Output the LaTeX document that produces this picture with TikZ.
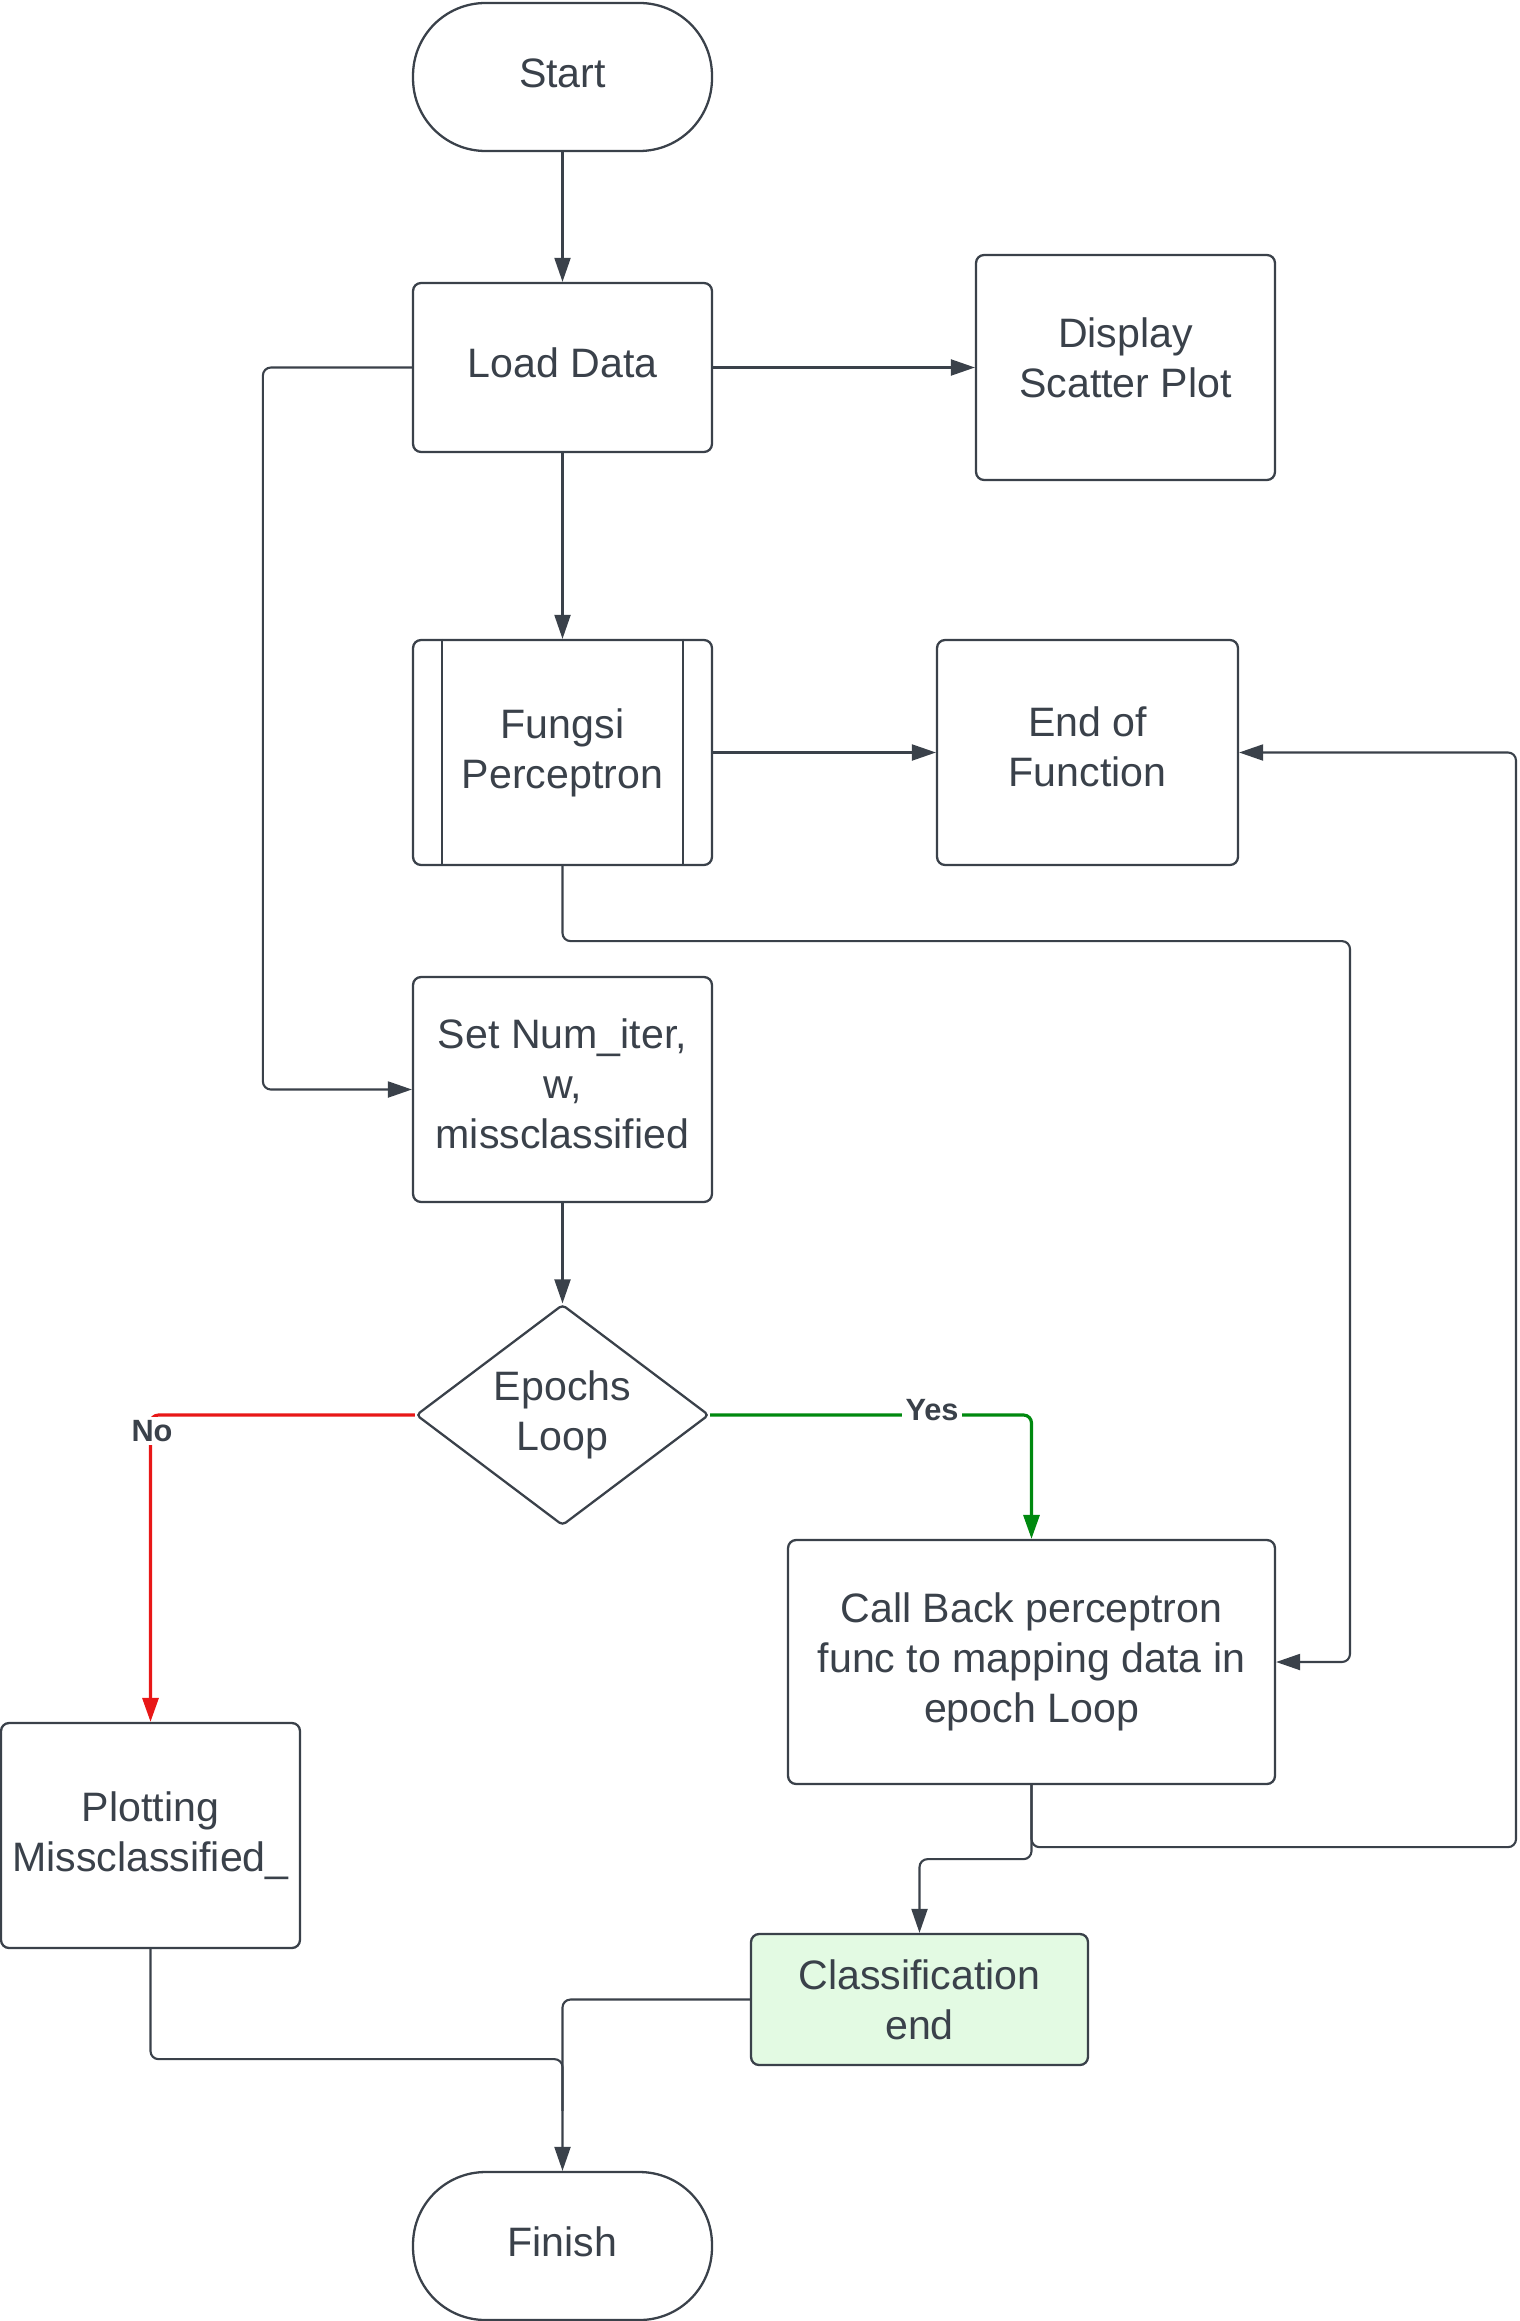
\documentclass[tikz,border=0pt]{standalone}
\usepackage{fontspec}
\setmainfont{Liberation Sans}
\usetikzlibrary{arrows.meta,shapes.geometric,calc}
\definecolor{ln}{HTML}{3A414A}
\definecolor{myred}{HTML}{E81717}
\definecolor{mygreen}{HTML}{00890F}
\definecolor{lgreen}{HTML}{E3FAE3}
\begin{document}
\begin{tikzpicture}[x=0.02cm,y=-0.02cm,
  box/.style={draw=ln,line width=1.3pt,rounded corners=0.16cm,align=center,
    text=ln,inner sep=2pt,font=\fontsize{23.4}{28.6}\selectfont},
  term/.style={box,rounded corners=1.45cm,minimum width=5.98cm,minimum height=2.96cm},
  conn/.style={draw=ln,line width=1.2pt,rounded corners=0.16cm,-{Triangle[length=0.48cm,width=0.32cm]}},
  plain/.style={draw=ln,line width=1.2pt,rounded corners=0.16cm},
  lbl/.style={font=\bfseries\fontsize{17.5}{20}\selectfont,text=ln,fill=white,inner sep=2pt}]
\useasboundingbox (0,0) rectangle (1519,2321);
\node[term] (start) at (562.5,77) {\strut Start};
\node[box,minimum width=5.98cm,minimum height=3.38cm] (load) at (562.5,367.5) {\strut Load Data};
\node[box,minimum width=5.98cm,minimum height=4.5cm,text depth=11.5pt] (disp) at (1125.5,367.5) {Display\\Scatter Plot};
\node[box,minimum width=5.98cm,minimum height=4.5cm] (fungsi) at (562.5,752.5) {Fungsi\\Perceptron};
\draw[ln,line width=1pt] ([xshift=0.6cm]fungsi.north west) -- ([xshift=0.6cm]fungsi.south west);
\draw[ln,line width=1pt] ([xshift=-0.6cm]fungsi.north east) -- ([xshift=-0.6cm]fungsi.south east);
\node[box,minimum width=6.02cm,minimum height=4.5cm,text depth=6.5pt] (eof) at (1087.5,752.5) {End of\\Function};
\node[box,minimum width=5.98cm,minimum height=4.5cm,text depth=6.5pt] (setn) at (562.5,1089.5) {Set Num\_iter,\\w,\\missclassified};
\node[box,shape=diamond,aspect=1.326,inner sep=0pt,rounded corners=0.08cm,minimum width=5.86cm,minimum height=4.42cm] (diam) at (562.5,1415) {Epochs\\Loop};
\node[box,minimum width=9.74cm,minimum height=4.88cm] (callb) at (1031.5,1662) {Call Back perceptron\\func to mapping data in\\epoch Loop};
\node[box,minimum width=5.98cm,minimum height=4.5cm] (plot) at (150.5,1835.5) {Plotting\\Missclassified\_};
\node[box,fill=lgreen,minimum width=6.74cm,minimum height=2.62cm] (classe) at (919.5,1999.5) {Classification\\end};
\node[term] (finish) at (562.5,2246) {\strut Finish};

\draw[conn] (start) -- (load);
\draw[conn] (load.east) -- (disp.west);
\draw[conn] (load.south) -- (fungsi.north);
\draw[conn] (load.west) -- ++(-149,0) |- (setn.west);
\draw[conn] (fungsi.east) -- (eof.west);
\draw[conn] (fungsi.south) -- ++(0,75) -| (1350,1662) -- (callb.east);
\draw[conn] (setn.south) -- (diam.north);
\draw[conn,draw=myred,line width=1.8pt,-{Triangle[length=0.48cm,width=0.32cm,fill=myred]}] (diam.west) -| (plot.north);
\draw[conn,draw=mygreen,line width=1.8pt,-{Triangle[length=0.48cm,width=0.32cm,fill=mygreen]}] (diam.east) -| (callb.north);
\node[lbl] (no) at (152,1431) {No};
\node[lbl] (yes) at (932,1410) {Yes};
\draw[conn] (callb.south) -- ++(0,62) -| (1516,752.5) -- (eof.east);
\draw[conn] (callb.south) -- ++(0,74) -| (classe.north);
\draw[conn] (plot.south) -- ++(0,110) -| (finish.north);
\draw[plain] (classe.west) -| ($(finish.north)+(0,-60)$);
\end{tikzpicture}
\end{document}
